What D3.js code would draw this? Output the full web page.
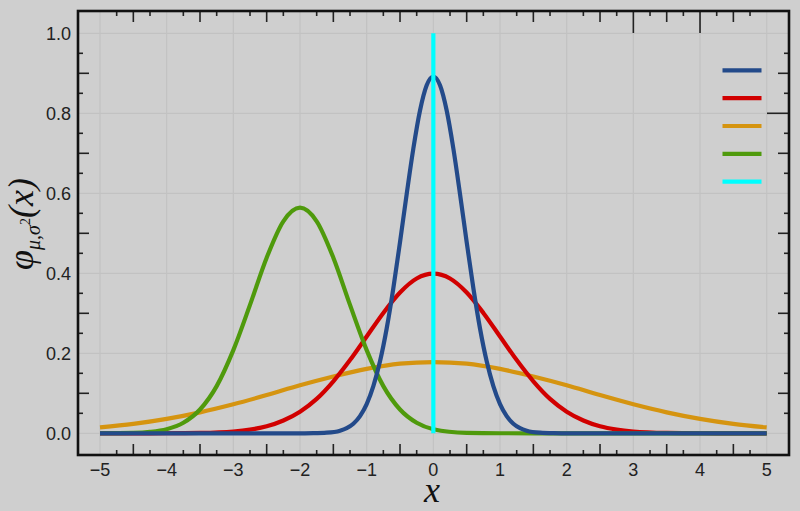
<!DOCTYPE html>
<html>
<head>
<meta charset="utf-8">
<script src="https://cdn.jsdelivr.net/npm/d3@7"></script>
<style>
  html, body { margin: 0; padding: 0; background: #cfcfcf; }
  svg { display: block; }
</style>
</head>
<body>
<svg id="chart" width="800" height="511"></svg>
<script>
let blueX = [-5, -4, -3, -2.5, -2, -1.8, -1.6, -1.4, -1.3, -1.2, -1.1, -1, -0.9, -0.8, -0.7, -0.6, -0.5, -0.4, -0.3, -0.2, -0.1, 0,
             0.1, 0.2, 0.3, 0.4, 0.5, 0.6, 0.7, 0.8, 0.9, 1, 1.1, 1.2, 1.3, 1.4, 1.6, 1.8, 2, 2.5, 3, 4, 5];
let blueY = [0, 0, 0, 0, 0, 0.0003, 0.0015, 0.0066, 0.013, 0.024, 0.043, 0.073, 0.118, 0.180, 0.262, 0.363, 0.478, 0.598, 0.712, 0.807, 0.870, 0.892,
             0.870, 0.807, 0.712, 0.598, 0.478, 0.363, 0.262, 0.180, 0.118, 0.073, 0.043, 0.024, 0.013, 0.0066, 0.0015, 0.0003, 0, 0, 0, 0, 0];

let redX = [-5, -4.5, -4, -3.5, -3, -2.75, -2.5, -2.25, -2, -1.75, -1.5, -1.25, -1, -0.75, -0.5, -0.25, 0,
            0.25, 0.5, 0.75, 1, 1.25, 1.5, 1.75, 2, 2.25, 2.5, 2.75, 3, 3.5, 4, 4.5, 5];
let redY = [0, 0, 0.0001, 0.0009, 0.0044, 0.0091, 0.0175, 0.032, 0.054, 0.086, 0.130, 0.183, 0.242, 0.301, 0.352, 0.387, 0.399,
            0.387, 0.352, 0.301, 0.242, 0.183, 0.130, 0.086, 0.054, 0.032, 0.0175, 0.0091, 0.0044, 0.0009, 0.0001, 0, 0];

let orangeX = [-5, -4.5, -4, -3.5, -3, -2.5, -2, -1.5, -1, -0.5, 0, 0.5, 1, 1.5, 2, 2.5, 3, 3.5, 4, 4.5, 5];
let orangeY = [0.0146, 0.0235, 0.036, 0.0524, 0.0725, 0.0955, 0.120, 0.142, 0.161, 0.174, 0.178,
               0.174, 0.161, 0.142, 0.120, 0.0955, 0.0725, 0.0524, 0.036, 0.0235, 0.0146];

let greenX = [-5, -4.5, -4.25, -4, -3.75, -3.5, -3.25, -3, -2.75, -2.5, -2.25, -2, -1.75, -1.5, -1.25, -1, -0.75, -0.5, -0.25, 0, 0.5, 1, 2, 3, 4, 5];
let greenY = [0.0001, 0.0011, 0.0036, 0.0103, 0.0264, 0.0595, 0.118, 0.208, 0.321, 0.439, 0.530, 0.564, 0.530, 0.439, 0.321, 0.208, 0.118, 0.0595, 0.0264, 0.0103, 0.0011, 0.0001, 0, 0, 0, 0];

let cyanX = [0, 0];
let cyanY = [0, 1];

let xTickLabels = [-5, -4, -3, -2, -1, 0, 1, 2, 3, 4, 5];
let yTickLabels = [0, 0.2, 0.4, 0.6, 0.8, 1.0];

let colors = {blue: "#234a8a", red: "#d10000", orange: "#d59410", green: "#4f9a0c", cyan: "#00ffff"};

let svg = d3.select("#chart");
let frame = {left: 78, top: 11, right: 789, bottom: 455};

let xScale = d3.scaleLinear().domain([-5, 5]).range([100, 766.7]);
let yScale = d3.scaleLinear().domain([0, 1]).range([433.3, 33.3]);

// grid
let grid = svg.append("g").attr("class", "grid");
grid.selectAll(".vgrid")
    .data(xTickLabels)
    .enter().append("line")
    .attr("x1", d => xScale(d)).attr("x2", d => xScale(d))
    .attr("y1", frame.top).attr("y2", frame.bottom)
    .style("stroke", "#c2c2c2").style("stroke-width", 1.2);
grid.selectAll(".hgrid")
    .data(yTickLabels)
    .enter().append("line")
    .attr("y1", d => yScale(d)).attr("y2", d => yScale(d))
    .attr("x1", frame.left).attr("x2", frame.right)
    .style("stroke", "#c2c2c2").style("stroke-width", 1.2);

// minor ticks on the frame, pointing inward (no ticks at the labelled values)
let ticks = svg.append("g").attr("class", "ticks")
    .style("stroke", "#222").style("stroke-width", 1.6);

// x: quarter steps
d3.range(0, 41).forEach(function (i) {
    let v = -5 + i * 0.25;
    let x = xScale(v);
    let l = (i % 4 === 0) ? 0 : (i % 2 === 0 ? 11 : 5);
    if (l) ticks.append("line").attr("x1", x).attr("x2", x).attr("y1", frame.bottom).attr("y2", frame.bottom - l);
    let lt = (v === 3 || v === 4) ? 22 : l;
    if (lt) ticks.append("line").attr("x1", x).attr("x2", x).attr("y1", frame.top).attr("y2", frame.top + lt);
});

// y: 0.05 steps
d3.range(0, 21).forEach(function (i) {
    let y = yScale(i * 0.05);
    let l = (i % 2 === 1) ? 5 : (i % 4 === 2 ? 11 : 0);
    if (l) ticks.append("line").attr("x1", frame.left).attr("x2", frame.left + l).attr("y1", y).attr("y2", y);
    let lr = (i === 16) ? 22 : l;
    if (lr) ticks.append("line").attr("x1", frame.right).attr("x2", frame.right - lr).attr("y1", y).attr("y2", y);
});

// curves
let smoothLine = d3.line()
    .x(d => xScale(d[0]))
    .y(d => yScale(d[1]))
    .curve(d3.curveMonotoneX);
let straightLine = d3.line()
    .x(d => xScale(d[0]))
    .y(d => yScale(d[1]));

function drawSeries(xs, ys, color, gen) {
    let pts = xs.map((x, i) => [x, ys[i]]);
    svg.append("path")
        .datum(pts)
        .attr("d", gen)
        .style("fill", "none")
        .style("stroke", color)
        .style("stroke-width", 4.2)
        .style("stroke-linejoin", "round");
}

drawSeries(orangeX, orangeY, colors.orange, smoothLine);
drawSeries(redX, redY, colors.red, smoothLine);
drawSeries(greenX, greenY, colors.green, smoothLine);
drawSeries(blueX, blueY, colors.blue, smoothLine);
drawSeries(cyanX, cyanY, colors.cyan, straightLine);

// legend (lines only)
let legendColors = [colors.blue, colors.red, colors.orange, colors.green, colors.cyan];
svg.selectAll(".legend")
    .data(legendColors)
    .enter().append("line")
    .attr("x1", 722.5).attr("x2", 761.5)
    .attr("y1", (d, i) => 70.3 + i * 27.85)
    .attr("y2", (d, i) => 70.3 + i * 27.85)
    .style("stroke", d => d)
    .style("stroke-width", 4.2);

// frame
svg.append("rect")
    .attr("x", frame.left).attr("y", frame.top)
    .attr("width", frame.right - frame.left).attr("height", frame.bottom - frame.top)
    .style("fill", "none").style("stroke", "#111").style("stroke-width", 2.6);

// tick labels
svg.selectAll(".xlabel")
    .data(xTickLabels)
    .enter().append("text")
    .attr("x", d => xScale(d))
    .attr("y", 475.5)
    .attr("text-anchor", "middle")
    .style("font-family", "Liberation Sans, Arial, sans-serif")
    .style("font-size", "18px")
    .style("fill", "#222")
    .text(d => d < 0 ? "\u2212" + Math.abs(d) : d);

svg.selectAll(".ylabel")
    .data(yTickLabels)
    .enter().append("text")
    .attr("x", 71)
    .attr("y", d => yScale(d))
    .attr("dy", "0.36em")
    .attr("text-anchor", "end")
    .style("font-family", "Liberation Sans, Arial, sans-serif")
    .style("font-size", "18px")
    .style("fill", "#222")
    .text(d => d.toFixed(1));

// axis titles
svg.append("text")
    .attr("x", 432)
    .attr("y", 502)
    .attr("text-anchor", "middle")
    .style("font-family", "Liberation Serif, Times New Roman, serif")
    .style("font-style", "italic")
    .style("font-size", "36px")
    .style("fill", "#111")
    .text("x");

let yTitle = svg.append("text")
    .attr("transform", "translate(33,224) rotate(-90)")
    .attr("text-anchor", "middle")
    .style("font-family", "Liberation Serif, Times New Roman, serif")
    .style("font-style", "italic")
    .style("font-size", "36px")
    .style("fill", "#111");
yTitle.append("tspan").text("\u03c6");
yTitle.append("tspan").attr("dy", 7).style("font-size", "20px").text("\u03bc,\u03c3");
yTitle.append("tspan").attr("dy", -10).style("font-size", "14px").style("font-style", "normal").text("2");
yTitle.append("tspan").attr("dy", 3).text("(x)");
</script>
</body>
</html>
